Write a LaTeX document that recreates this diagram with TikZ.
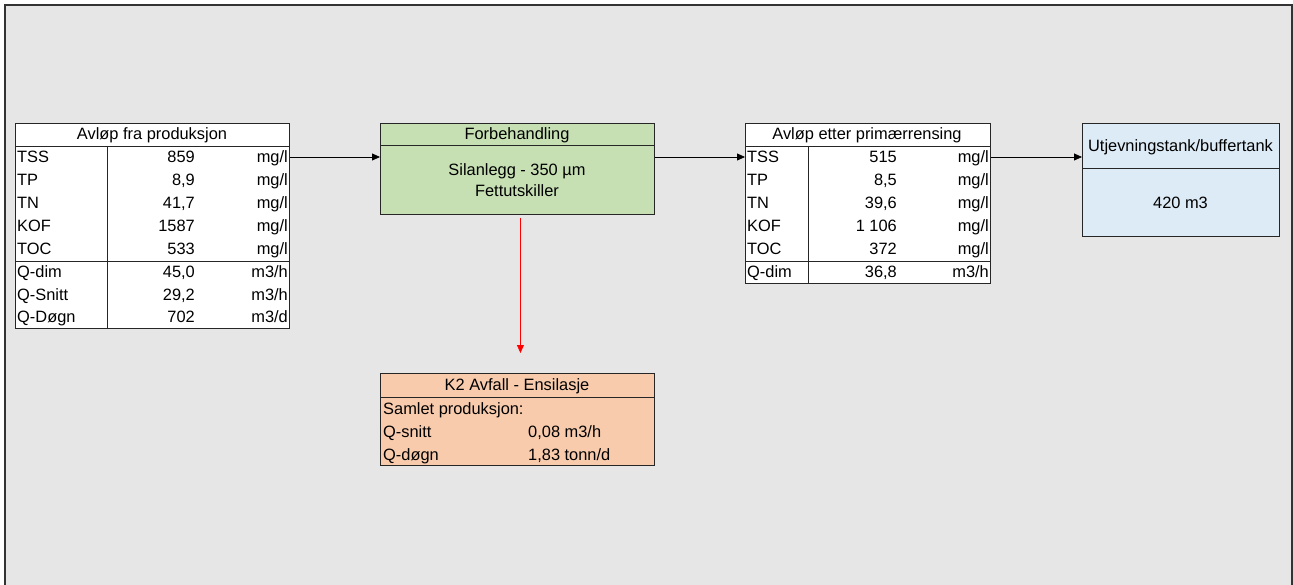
\documentclass[tikz,border=0pt]{standalone}
\usepackage{fontspec}
\setmainfont{Liberation Sans}
\usetikzlibrary{arrows.meta}
\definecolor{sheet}{HTML}{E6E6E6}
\definecolor{pregreen}{HTML}{C6E0B4}
\definecolor{tankblue}{HTML}{DDEBF7}
\definecolor{wasteorange}{HTML}{F8CBAD}
\tikzset{
    box/.style={draw=black!85, line width=0.9pt, anchor=north west, inner sep=0pt},
    rule/.style={draw=black!85, line width=0.7pt},
    txt/.style={inner sep=0pt, yshift=-2.5pt, font=\fontsize{16.4}{19}\selectfont},
    lbl/.style={txt, anchor=mid west},
    num/.style={txt, anchor=mid east},
    head/.style={txt, anchor=mid},
    flow/.style={-{Triangle[length=8pt,width=7pt]}, line width=0.75pt},
    waste/.style={flow, red}
}

\begin{document}
\begin{tikzpicture}[x=1pt, y=-1pt]
    \useasboundingbox (0,0) rectangle (1293,585);
    \fill[sheet] (5,5) rectangle (1292,585);
    \draw[line width=1.2pt, black!80] (5,585) -- (5,5) -- (1292,5) -- (1292,585);

    % boxes
    \node (prod) [box, fill=white, minimum width=274pt, minimum height=205pt] at (15,123) {};
    \node (forb) [box, fill=pregreen, minimum width=274pt, minimum height=91pt] at (380,123) {};
    \node (prim) [box, fill=white, minimum width=245pt, minimum height=160pt] at (745,123) {};
    \node (tank) [box, fill=tankblue, minimum width=197pt, minimum height=113pt] at (1082,123) {};
    \node (avf) [box, fill=wasteorange, minimum width=274pt, minimum height=92pt] at (380,373) {};

    % table rules
    \draw[rule] (15,146) -- (289,146);
    \draw[rule] (15,261) -- (289,261);
    \draw[rule] (107,146) -- (107,328);
    \draw[rule] (380,145) -- (654,145);
    \draw[rule] (745,146) -- (990,146);
    \draw[rule] (745,261) -- (990,261);
    \draw[rule] (808,146) -- (808,283);
    \draw[rule] (1082,168) -- (1279,168);
    \draw[rule] (380,397) -- (654,397);

    % Avløp fra produksjon
    \node (ph) [head] at (152,134.5) {Avløp fra produksjon};
    \node (p1) [lbl] at (17,157.5) {TSS};
    \node (p1v) [num] at (195,157.5) {859};
    \node (p1u) [num] at (288,157.5) {mg/l};
    \node (p2) [lbl] at (17,180.5) {TP};
    \node (p2v) [num] at (195,180.5) {8,9};
    \node (p2u) [num] at (288,180.5) {mg/l};
    \node (p3) [lbl] at (17,203.5) {TN};
    \node (p3v) [num] at (195,203.5) {41,7};
    \node (p3u) [num] at (288,203.5) {mg/l};
    \node (p4) [lbl] at (17,226.5) {KOF};
    \node (p4v) [num] at (195,226.5) {1587};
    \node (p4u) [num] at (288,226.5) {mg/l};
    \node (p5) [lbl] at (17,249.5) {TOC};
    \node (p5v) [num] at (195,249.5) {533};
    \node (p5u) [num] at (288,249.5) {mg/l};
    \node (p6) [lbl] at (17,272.5) {Q-dim};
    \node (p6v) [num] at (195,272.5) {45,0};
    \node (p6u) [num] at (288,272.5) {m3/h};
    \node (p7) [lbl] at (17,295.5) {Q-Snitt};
    \node (p7v) [num] at (195,295.5) {29,2};
    \node (p7u) [num] at (288,295.5) {m3/h};
    \node (p8) [lbl] at (17,317.5) {Q-Døgn};
    \node (p8v) [num] at (195,317.5) {702};
    \node (p8u) [num] at (288,317.5) {m3/d};

    % Forbehandling
    \node (fh) [head] at (517,134) {Forbehandling};
    \node (f1) [head] at (517,170) {Silanlegg - 350 µm};
    \node (f2) [head] at (517,191) {Fettutskiller};

    % Avløp etter primærrensing
    \node (eh) [head] at (867,134.5) {Avløp etter primærrensing};
    \node (e1) [lbl] at (747,157.5) {TSS};
    \node (e1v) [num] at (897,157.5) {515};
    \node (e1u) [num] at (989,157.5) {mg/l};
    \node (e2) [lbl] at (747,180.5) {TP};
    \node (e2v) [num] at (897,180.5) {8,5};
    \node (e2u) [num] at (989,180.5) {mg/l};
    \node (e3) [lbl] at (747,203.5) {TN};
    \node (e3v) [num] at (897,203.5) {39,6};
    \node (e3u) [num] at (989,203.5) {mg/l};
    \node (e4) [lbl] at (747,226.5) {KOF};
    \node (e4v) [num] at (897,226.5) {1 106};
    \node (e4u) [num] at (989,226.5) {mg/l};
    \node (e5) [lbl] at (747,249.5) {TOC};
    \node (e5v) [num] at (897,249.5) {372};
    \node (e5u) [num] at (989,249.5) {mg/l};
    \node (e6) [lbl] at (747,272) {Q-dim};
    \node (e6v) [num] at (897,272) {36,8};
    \node (e6u) [num] at (989,272) {m3/h};

    % Utjevningstank
    \node (th) [head] at (1180.5,146) {Utjevningstank/buffertank};
    \node (t1) [head] at (1180.5,203) {420 m3};

    % K2 Avfall
    \node (ah) [head] at (517,385) {K2 Avfall - Ensilasje};
    \node (a1) [lbl] at (383,409) {Samlet produksjon:};
    \node (a2) [lbl] at (383,432) {Q-snitt};
    \node (a2v) [lbl] at (528,432) {0,08 m3/h};
    \node (a3) [lbl] at (383,455) {Q-døgn};
    \node (a3v) [lbl] at (528,455) {1,83 tonn/d};

    % flows
    \draw[flow] (p1 -| prod.east) -- (p1 -| forb.west);
    \draw[flow] (e1 -| forb.east) -- (e1 -| prim.west);
    \draw[flow] (e1 -| prim.east) -- (e1 -| tank.west);
    \draw[waste, shorten <=3pt, shorten >=20pt] ([xshift=3pt]forb.south) -- ([xshift=3pt]avf.north);
\end{tikzpicture}
\end{document}
